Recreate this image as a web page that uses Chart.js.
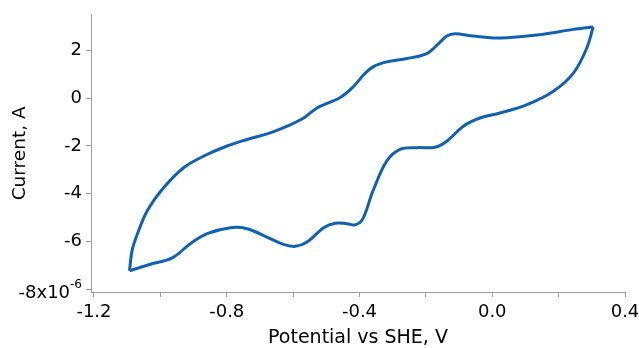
<!DOCTYPE html>
<html>
<head>
<meta charset="utf-8">
<script src="https://cdn.jsdelivr.net/npm/chart.js@4/dist/chart.umd.min.js"></script>
<style>
  html, body { margin: 0; padding: 0; background: #fff; }
  #wrap { width: 639px; height: 348px; position: relative; }
</style>
</head>
<body>
<div id="wrap"><canvas id="c"></canvas></div>
<script>
// Potential (V vs SHE) and current (A)
const forwardPotential = [-1.093, -1.03, -0.964, -0.909, -0.859, -0.789, -0.739, -0.679, -0.629, -0.593, -0.558, -0.508, -0.473, -0.438, -0.413, -0.39, -0.36, -0.318, -0.278, -0.227, -0.172, -0.137, -0.087, -0.037, 0.023, 0.103, 0.183, 0.244, 0.284, 0.304];
const forwardCurrent = [-7.22e-6, -6.95e-6, -6.68e-6, -6.08e-6, -5.67e-6, -5.42e-6, -5.46e-6, -5.81e-6, -6.12e-6, -6.20e-6, -6.02e-6, -5.42e-6, -5.23e-6, -5.25e-6, -5.30e-6, -5.05e-6, -3.90e-6, -2.63e-6, -2.14e-6, -2.07e-6, -2.05e-6, -1.80e-6, -1.17e-6, -0.83e-6, -0.62e-6, -0.28e-6, 0.28e-6, 1.04e-6, 2.07e-6, 2.98e-6];
const reversePotential = [0.304, 0.244, 0.143, 0.023, -0.057, -0.112, -0.137, -0.167, -0.197, -0.257, -0.318, -0.358, -0.388, -0.418, -0.458, -0.528, -0.568, -0.618, -0.669, -0.739, -0.799, -0.869, -0.929, -0.989, -1.039, -1.069, -1.085, -1.093];
const reverseCurrent = [2.98e-6, 2.88e-6, 2.66e-6, 2.52e-6, 2.60e-6, 2.70e-6, 2.60e-6, 2.21e-6, 1.87e-6, 1.66e-6, 1.52e-6, 1.32e-6, 0.97e-6, 0.49e-6, 0.03e-6, -0.41e-6, -0.83e-6, -1.17e-6, -1.45e-6, -1.73e-6, -2.00e-6, -2.42e-6, -2.90e-6, -3.73e-6, -4.70e-6, -5.67e-6, -6.36e-6, -7.22e-6];
const xTickValues = [-1.2, -1.0, -0.8, -0.6, -0.4, -0.2, 0.0, 0.2, 0.4];
const xTickLabels = ['-1.2', '', '-0.8', '', '-0.4', '', '0.0', '', '0.4'];
const yTickValues = [-8e-6, -6e-6, -4e-6, -2e-6, 0, 2e-6];
const yTickLabels = ['', '-6', '-4', '-2', '0', '2'];
const xTitle = 'Potential vs SHE, V';
const yTitle = 'Current, A';
const yBottomMantissa = '-8x10';
const yBottomExponent = '-6';

const LINE = '#1061b0';
const AXIS = '#9c9c9c';
const FONT = '"DejaVu Sans", Verdana, sans-serif';

function pts(xs, ys) { return xs.map((x, i) => ({ x: x, y: ys[i] })); }

const superscriptPlugin = {
  id: 'superscriptLabel',
  afterDraw(chart) {
    const ys = chart.scales.y;
    const ctx = chart.ctx;
    const yp = ys.getPixelForValue(yTickValues[0]);
    ctx.save();
    ctx.fillStyle = '#000';
    ctx.textBaseline = 'middle';
    ctx.font = '12px ' + FONT;
    ctx.textAlign = 'right';
    const expW = ctx.measureText(yBottomExponent).width;
    const right = ys.right - 5 - 4;
    ctx.fillText(yBottomExponent, right, yp - 4);
    ctx.font = '18px ' + FONT;
    ctx.fillText(yBottomMantissa, right - expW, yp + 4);
    ctx.restore();
  }
};

new Chart(document.getElementById('c'), {
  type: 'scatter',
  data: {
    datasets: [
      { data: pts(forwardPotential, forwardCurrent), showLine: true, borderColor: LINE, borderWidth: 3, pointRadius: 0, tension: 0.35, fill: false },
      { data: pts(reversePotential, reverseCurrent), showLine: true, borderColor: LINE, borderWidth: 3, pointRadius: 0, tension: 0.35, fill: false }
    ]
  },
  options: {
    responsive: true,
    maintainAspectRatio: false,
    animation: false,
    layout: { padding: { top: 13, right: 14, left: 0, bottom: 0 } },
    plugins: { legend: { display: false }, tooltip: { enabled: false } },
    scales: {
      x: {
        type: 'linear',
        min: -1.209,
        max: 0.4,
        afterBuildTicks(scale) { scale.ticks = xTickValues.map(v => ({ value: v })); },
        afterFit(scale) { scale.height = 56; scale.paddingRight = 0; scale.paddingLeft = 0; },
        grid: { drawOnChartArea: false, drawTicks: true, tickLength: 5, color: AXIS, lineWidth: 1 },
        border: { display: true, color: AXIS, width: 1 },
        ticks: {
          color: '#000',
          font: { family: FONT, size: 18 },
          padding: 5,
          maxRotation: 0,
          autoSkip: false,
          callback(value, index) { return xTickLabels[index]; }
        },
        title: { display: true, text: xTitle, color: '#000', font: { family: FONT, size: 19, lineHeight: 1 }, padding: { top: 0, bottom: 0 } }
      },
      y: {
        type: 'linear',
        min: -8.11e-6,
        max: 3.49e-6,
        afterBuildTicks(scale) { scale.ticks = yTickValues.map(v => ({ value: v })); },
        afterFit(scale) { scale.width = 91; },
        grid: { drawOnChartArea: false, drawTicks: true, tickLength: 5, color: AXIS, lineWidth: 1 },
        border: { display: true, color: AXIS, width: 1 },
        ticks: {
          color: '#000',
          font: { family: FONT, size: 18 },
          padding: 4,
          autoSkip: false,
          callback(value, index) { return yTickLabels[index]; }
        },
        title: { display: true, text: yTitle, color: '#000', font: { family: FONT, size: 18.5, lineHeight: 1 }, padding: { top: 11, bottom: 0 } }
      }
    }
  },
  plugins: [superscriptPlugin]
});
</script>
</body>
</html>
